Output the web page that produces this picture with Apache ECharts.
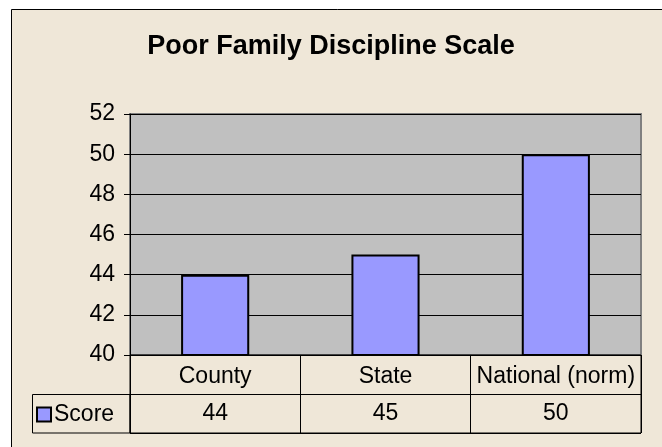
<!DOCTYPE html>
<html>
<head>
<meta charset="utf-8">
<script src="https://cdn.jsdelivr.net/npm/echarts@6/dist/echarts.min.js"></script>
<style>
  html, body { margin: 0; padding: 0; background: #fff; }
  #chart { width: 662px; height: 447px; }
</style>
</head>
<body>
<div id="chart"></div>
<script>
// données
const categories = ['County', 'State', 'National (norm)'];
const scores = [44, 45, 50];
const seriesName = 'Score';
const yTicks = { min: 40, max: 52, interval: 2 };

const font = '"Liberation Sans", Arial, sans-serif';

const chart = echarts.init(document.getElementById('chart'));
const option = {
    animation: false,
    backgroundColor: '#fff',
    title: {
        text: 'Poor Family Discipline Scale',
        left: 'center',
        top: 28,
        textStyle: { fontFamily: font, fontSize: 27, fontWeight: 'bold', color: '#000' }
    },
    legend: {
        left: 31, top: 398,
        itemWidth: 14, itemHeight: 14, itemGap: 4,
        icon: 'rect',
        data: [seriesName],
        textStyle: { fontFamily: font, fontSize: 23, color: '#000', padding: [0, 0, 0, -2] },
        itemStyle: { borderColor: '#000', borderWidth: 2 }
    },
    grid: [
        { left: 130, top: 114, width: 511, height: 241, show: true,
          backgroundColor: '#c0c0c0', borderColor: '#808080', borderWidth: 2 },
        { left: 130, top: 355, width: 511, height: 78, show: true,
          backgroundColor: 'transparent', borderColor: '#000', borderWidth: 1 }
    ],
    xAxis: [
        { type: 'category', gridIndex: 0, data: categories,
          axisLine: { lineStyle: { color: '#000', width: 1 } },
          axisTick: { show: false },
          axisLabel: { interval: 0, hideOverlap: false, margin: 10, color: '#000',
                       fontFamily: font, fontSize: 23 } },
        { type: 'category', gridIndex: 1, data: categories,
          axisLine: { show: false }, axisTick: { show: false }, axisLabel: { show: false },
          splitLine: { show: true, interval: 0, lineStyle: { color: '#000', width: 1 } } }
    ],
    yAxis: [
        { type: 'value', gridIndex: 0, min: yTicks.min, max: yTicks.max, interval: yTicks.interval,
          axisLine: { show: true, lineStyle: { color: '#000', width: 1 } },
          axisTick: { show: true, length: 6, lineStyle: { color: '#000' } },
          axisLabel: { margin: 15, color: '#000', fontFamily: font, fontSize: 23 },
          splitLine: { show: true, lineStyle: { color: '#000', width: 1 } } },
        { type: 'value', gridIndex: 1, min: 0, max: 2, interval: 1,
          axisLine: { show: false }, axisTick: { show: false }, axisLabel: { show: false },
          splitLine: { show: true, lineStyle: { color: '#000', width: 1 } } }
    ],
    graphic: [
        { type: 'rect', z: -10, shape: { x: 11.5, y: 9.5, width: 660, height: 450 },
          style: { fill: '#efe7d8', stroke: '#000', lineWidth: 1 } },
        { type: 'rect', z: 5, shape: { x: 32.5, y: 394.5, width: 97.5, height: 38.5 },
          style: { fill: 'none', stroke: '#000', lineWidth: 1 } }
    ],
    series: [
        { name: seriesName, type: 'bar', xAxisIndex: 0, yAxisIndex: 0,
          data: scores, barWidth: '40%',
          itemStyle: { color: '#9999ff', borderColor: '#000', borderWidth: 2 } },
        { name: 'table', type: 'scatter', xAxisIndex: 1, yAxisIndex: 1,
          symbolSize: 0, silent: true,
          itemStyle: { opacity: 1, color: '#000' },
          data: scores.map((v, i) => [categories[i], 0.5, v]),
          label: { show: true, position: 'inside', color: '#000', fontFamily: font, fontSize: 23,
                   textBorderWidth: 0, formatter: p => p.value[2] } }
    ]
};
chart.setOption(option);
</script>
</body>
</html>
